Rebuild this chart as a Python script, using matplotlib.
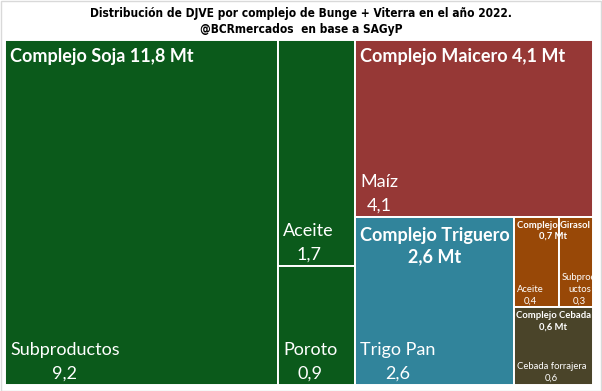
import matplotlib
matplotlib.use("Agg")
import matplotlib.pyplot as plt
from matplotlib.patches import Rectangle

# ---------------- data ----------------
groups = ["Complejo Soja", "Complejo Maicero", "Complejo Triguero",
          "Complejo Girasol", "Complejo Cebada"]
group_totals = [11.8, 4.1, 2.6, 0.7, 0.6]
leaf_names = [["Subproductos", "Aceite", "Poroto"],
              ["Maíz"],
              ["Trigo Pan"],
              ["Aceite", "Subprod\nuctos"],
              ["Cebada forrajera"]]
leaf_values = [[9.2, 1.7, 0.9],
               [4.1],
               [2.6],
               [0.4, 0.3],
               [0.6]]
title = "Distribución de DJVE por complejo de Bunge + Viterra en el año 2022."
subtitle = "@BCRmercados  en base a SAGyP"

# ---------------- style ----------------
group_colors = ["#0b5a1b", "#963836", "#31849b", "#984807", "#4a4429"]
group_wrap = [False, False, True, True, True]
group_fs = [13, 13, 13, 6.8, 6.8]
leaf_fs = [13, 13, 13, 6.8, 6.8]
FONT = "Lato"

W, H = 588.0, 345.0


def fmt(v):
    return f"{v:.1f}".replace(".", ",")


def worst(row, length):
    s = sum(row)
    side = s / length
    return max(max(side / (r / side), (r / side) / side) for r in row)


def squarify(vals, x, y, w, h):
    """Squarified layout (values scaled to area). Returns list of rects."""
    total = sum(vals)
    scale = w * h / total
    areas = [v * scale for v in vals]
    rects = []
    i = 0
    while i < len(areas):
        vertical = not (h > 1.2 * w)  # column strip along height
        length = h if vertical else w
        row = [areas[i]]
        j = i + 1
        while j < len(areas):
            if worst(row + [areas[j]], length) <= worst(row, length):
                row.append(areas[j])
                j += 1
            else:
                break
        s = sum(row)
        thick = s / length
        off = 0.0
        for a in row:
            seg = a / thick
            if vertical:
                rects.append((x, y + off, thick, seg))
            else:
                rects.append((x + off, y, seg, thick))
            off += seg
        if vertical:
            x += thick
            w -= thick
        else:
            y += thick
            h -= thick
        i = j
    return rects


fig = plt.figure(figsize=(6.02, 3.91), dpi=100)
fig.patch.set_facecolor("white")
ax = fig.add_axes([5 / 602, 6 / 391, W / 602, H / 391])
ax.set_xlim(0, W)
ax.set_ylim(H, 0)
ax.axis("off")

grects = squarify(group_totals, 0, 0, W, H)
for gi, (gx, gy, gw, gh) in enumerate(grects):
    col = group_colors[gi]
    lrects = squarify(leaf_values[gi], gx, gy, gw, gh)
    small = leaf_fs[gi] < 8
    for li, (lx, ly, lw, lh) in enumerate(lrects):
        ax.add_patch(Rectangle((lx, ly), lw, lh, facecolor=col,
                               edgecolor="white", linewidth=1.4, zorder=1))
        pad_x = 3 if small else 5
        pad_y = 2 if small else 3
        ax.text(lx + pad_x, ly + lh - pad_y,
                f"{leaf_names[gi][li]}\n{fmt(leaf_values[gi][li])}",
                ha="left", va="bottom", multialignment="center",
                color="white", fontsize=leaf_fs[gi], family=FONT,
                linespacing=1.6 if not small else 1.4, zorder=5)
    label = f"{groups[gi]} {fmt(group_totals[gi])} Mt"
    if group_wrap[gi]:
        label = f"{groups[gi]}\n{fmt(group_totals[gi])} Mt"
        ax.text(gx + gw / 2, gy + (10 if not small else 4), label,
                ha="center", va="top", multialignment="center",
                color="white", fontsize=group_fs[gi], family=FONT,
                fontweight="bold", linespacing=1.3, zorder=5)
    else:
        ax.text(gx + 5, gy + 8, label, ha="left", va="top", color="white",
                fontsize=group_fs[gi], family=FONT, fontweight="bold",
                zorder=5)

fig.text(0.5, 1 - 13 / 391, title, ha="center", va="center",
         fontsize=8.6, fontweight="bold", family="DejaVu Sans",
         fontstretch="condensed")
fig.text(0.5, 1 - 29 / 391, subtitle, ha="center", va="center",
         fontsize=8.6, fontweight="bold", family="DejaVu Sans",
         fontstretch="condensed")

# light frame around the image
fig.patches.append(Rectangle((0.5 / 602, 0.5 / 391), 600 / 602, 389.5 / 391,
                             transform=fig.transFigure, fill=False,
                             edgecolor="#d9d9d9", linewidth=1.0))

fig.savefig("out.png", dpi=100, facecolor="white")
